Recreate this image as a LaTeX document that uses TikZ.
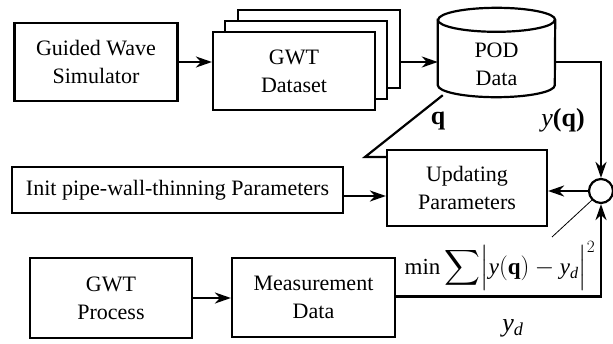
\documentclass[tikz,border=0pt]{standalone}
\usepackage{amsmath}
\usepackage{fontspec}
\setmainfont{Liberation Serif}
\usepackage{tikz}
\usetikzlibrary{positioning, arrows.meta}

\begin{document}
\begin{tikzpicture}[x=1pt, y=-1pt,
    every node/.style={font=\fontsize{22}{28}\selectfont},
    block/.style={draw, line width=2.2pt, fill=white, align=center, inner sep=0pt},
    link/.style={line width=2.2pt, -{Stealth[length=16pt, width=11pt, inset=5pt]}},
    wire/.style={line width=2.2pt}]
    \def\mathsize{\fontsize{26}{30}\selectfont}
    \def\podrx{58.5pt}
    \def\podry{12pt}
    \useasboundingbox (0,0) rectangle (613,343);

    % top row
    \node[block, minimum width=163, minimum height=78] (gws) at (96,62) {Guided Wave\\Simulator};
    \foreach \dx/\dy/\n in {25/-22/3, 12/-11/2}
    {
    \node[block, minimum width=162, minimum height=78] (ds\n) at (294+\dx,71+\dy) {};
    }
    \node[block, minimum width=162, minimum height=78] (ds) at (294,71) {GWT\\Dataset};

    % POD data store
    \node[minimum width=117, minimum height=65, inner sep=0pt] (pod) at (496.5,52.5) {};
    \draw[wire, fill=white] (pod.north west) -- (pod.south west)
        arc[start angle=180, end angle=360, x radius=\podrx, y radius=\podry]
        -- (pod.north east)
        arc[start angle=0, end angle=180, x radius=\podrx, y radius=\podry] -- cycle;
    \draw[wire] (pod.north west) arc[start angle=180, end angle=360, x radius=\podrx, y radius=\podry];
    \node[align=center] (podtxt) at (496.5,64) {POD\\Data};
    \coordinate (rowA) at (0,62);

    \draw[link] (gws.east) -- (gws.east -| ds.west);
    \draw[link] (ds3.east |- rowA) -- (pod.west |- rowA);

    % middle row
    \node[circle, draw, line width=2.2pt, minimum size=24, inner sep=0pt] (sum) at (601,191) {};
    \node[block, minimum width=160, minimum height=76] (up) at (467,188) {Updating\\Parameters};
    \node[block, minimum width=331, minimum height=46] (init) at (177.5,190) {Init pipe-wall-thinning Parameters};

    \draw[link] (pod.east |- rowA) -| (sum.north);
    \draw[link] (sum.west) -- (sum.west -| up.east);
    \draw[link] ([yshift=-6pt]init.east) -- ([yshift=-6pt]init.east -| up.west);

    \coordinate (qbend) at (365,157);
    \draw[wire] ([xshift=5pt, yshift=-10pt]pod.south west) -- (qbend) -- (qbend -| up.west);

    % bottom row
    \node[block, minimum width=162, minimum height=80] (gwp) at (111,298) {GWT\\Process};
    \node[block, minimum width=163, minimum height=79] (md) at (313.5,297.5) {Measurement\\Data};

    \draw[link] (gwp.east) -- (gwp.east -| md.west);
    \draw[link] ([yshift=1pt]md.east) -| (sum.south);

    \coordinate (tip) at (552,237);
    \draw[line width=0.8pt] (sum.south west) -- (tip);

    % labels
    \node[font=\mathsize\bfseries] (qlab) at (438,121) {q};
    \node[font=\mathsize] (yqlab) at (563,120) {\textit{y}\textbf{(q)}};
    \node[font=\fontsize{23}{30}\selectfont] (cost) at (500,266) {$\mathrm{min}\displaystyle\sum\Bigl|\mathit{y}\mathbf{(q)}-\mathit{y}_{\mathit{d}}\Bigr|^{2}$};
    \node[font=\mathsize] (ydlab) at (513,328) {$\mathit{y}_{\mathit{d}}$};
\end{tikzpicture}
\end{document}
